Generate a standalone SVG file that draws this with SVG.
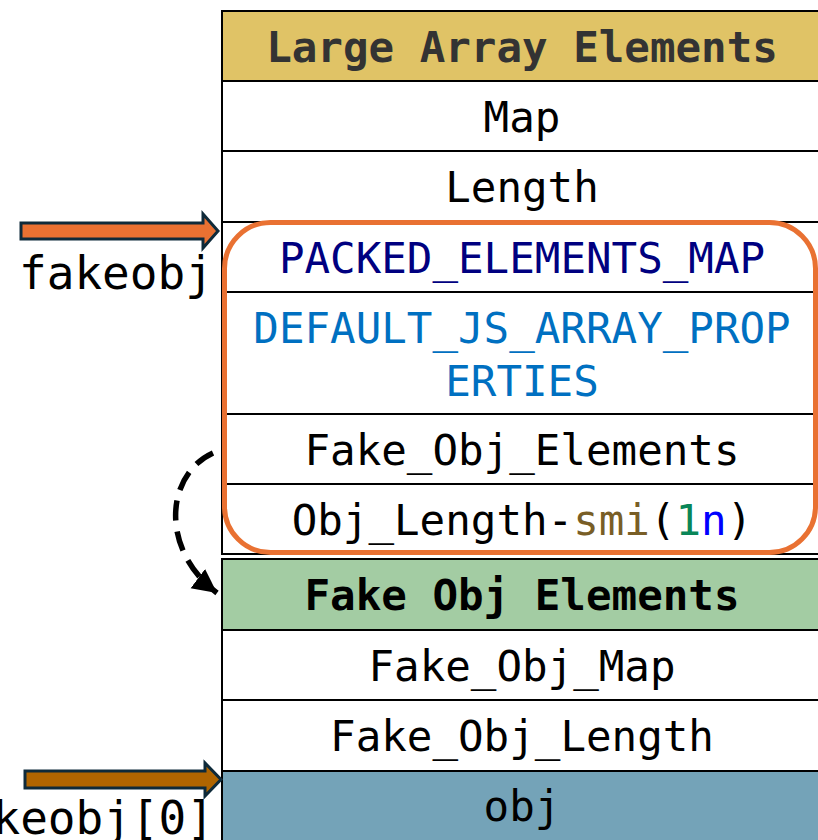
<svg xmlns="http://www.w3.org/2000/svg" width="818" height="840" viewBox="0 0 818 840">
<style>
.cell{stroke:#000;stroke-width:2;fill:#fff}
.t{font-family:"DejaVu Sans Mono","Liberation Mono",monospace;font-size:42.5px;text-anchor:middle;fill:#000}
.b{font-weight:bold}
.lbl{font-family:"DejaVu Sans Mono","Liberation Mono",monospace;font-size:46px;fill:#000}
.blk{stroke:#0E2A3A;stroke-width:3;stroke-linejoin:miter}
</style>
<defs>
<marker id="ah" markerUnits="userSpaceOnUse" markerWidth="30" markerHeight="30" refX="24" refY="12" orient="auto">
<path d="M0,0 L24,12 L0,24 Z" fill="#000"/>
</marker>
</defs>
<rect width="818" height="840" fill="#fff"/>
<g id="large-array">
<g id="hdr1"><rect class="cell" x="222" y="11" width="602" height="70" style="fill:#E0C366"/><text class="t b" x="522" y="61.5" style="fill:#333">Large Array Elements</text></g>
<g id="map"><rect class="cell" x="222" y="81" width="602" height="70"/><text class="t" x="522" y="131.5">Map</text></g>
<g id="length"><rect class="cell" x="222" y="151" width="602" height="71"/><text class="t" x="522" y="202">Length</text></g>
<g id="packed"><rect class="cell" x="222" y="222" width="602" height="70"/><text class="t" x="522" y="272.5" style="fill:#000080">PACKED_ELEMENTS_MAP</text></g>
<g id="props"><rect class="cell" x="222" y="292" width="602" height="122"/><text class="t" x="522" y="342.5" style="fill:#0070C1">DEFAULT_JS_ARRAY_PROP</text><text class="t" x="522" y="395.5" style="fill:#0070C1">ERTIES</text></g>
<g id="fake-elems-ptr"><rect class="cell" x="222" y="414" width="602" height="70"/><text class="t" x="522" y="464.5">Fake_Obj_Elements</text></g>
<g id="obj-length"><rect class="cell" x="222" y="484" width="602" height="70"/><text class="t" x="522" y="534.5">Obj_Length-<tspan fill="#795E26">smi</tspan>(<tspan fill="#098658">1</tspan><tspan fill="#0000FF">n</tspan>)</text></g>
</g>
<g id="fake-obj">
<g id="hdr2"><rect class="cell" x="222" y="559" width="602" height="71" style="fill:#A3CCA3"/><text class="t b" x="522" y="610">Fake Obj Elements</text></g>
<g id="fake-map"><rect class="cell" x="222" y="630" width="602" height="70"/><text class="t" x="522" y="680.5">Fake_Obj_Map</text></g>
<g id="fake-length"><rect class="cell" x="222" y="700" width="602" height="71"/><text class="t" x="522" y="751">Fake_Obj_Length</text></g>
<g id="obj"><rect class="cell" x="222" y="771" width="602" height="80" style="fill:#74A3B8"/><text class="t" x="522" y="821">obj</text></g>
</g>
<g id="highlight"><rect x="224.5" y="222.5" width="591" height="330" rx="46" fill="none" stroke="#E97132" stroke-width="5"/></g>
<g id="connectors">
<path class="blk" d="M21,223 L203,223 L203,214 L218,231 L203,248 L203,239 L21,239 Z" fill="#E97132"/>
<path class="blk" d="M25,771 L205,771 L205,763 L221,779.5 L205,796 L205,788 L25,788 Z" fill="#B06500"/>
<path d="M213,453 C165,475 160,550 217,593" fill="none" stroke="#000" stroke-width="5.5" stroke-dasharray="20,11" marker-end="url(#ah)"/>
</g>
<g id="labels">
<text class="lbl" x="19" y="289">fakeobj</text>
<text class="lbl" x="214" y="834" text-anchor="end">fakeobj[0]</text>
</g>
</svg>
